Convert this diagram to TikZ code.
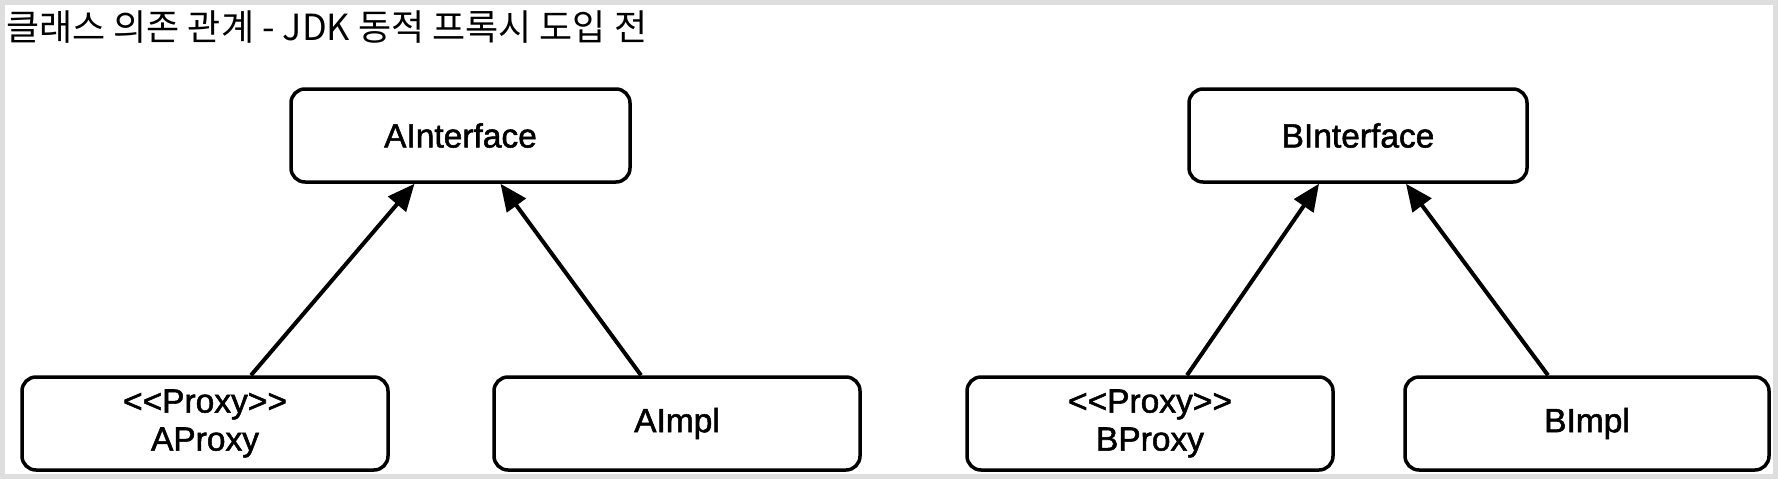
\documentclass[tikz,border=0pt]{standalone}
\usepackage{fontspec}
\setmainfont{Liberation Sans}
\newfontfamily\kofont{Noto Sans CJK KR}
\newfontfamily\boxfont{Liberation Sans}[FakeBold=1.6]
\usepackage{tikz}
\usetikzlibrary{arrows.meta}
\pgfdeclarelayer{background}
\pgfsetlayers{background,main}

\tikzset{
  classbox/.style={draw, line width=3.5pt, rounded corners=14pt, align=center,
    minimum width=366pt, minimum height=93pt, inner sep=0pt,
    font=\boxfont\fontsize{33.5}{38}\selectfont},
  implements/.style={-{Triangle[length=27pt,width=23pt]}, line width=4pt}
}

\begin{document}
\begin{tikzpicture}[x=1pt,y=-1pt]
\useasboundingbox (0,0) rectangle (1778,480);
\begin{pgfonlayer}{background}
\draw[color=black!13, line width=5pt] (2.5,2.5) rectangle (1775.5,476.5);
\end{pgfonlayer}
\node[anchor=west, inner sep=0pt, font=\kofont\fontsize{36}{40}\selectfont] (title) at (6,27) {클래스 의존 관계 - JDK 동적 프록시 도입 전};
% A side
\node[classbox, minimum width=339pt] (aiface) at (460.5,135.5) {AInterface};
\node[classbox] (aproxy) at (205,423.5) {{<}{<}Proxy{>}{>}\\AProxy};
\node[classbox] (aimpl) at (677,423.5) {AImpl};
% B side
\node[classbox, minimum width=338pt] (biface) at (1358,135.5) {BInterface};
\node[classbox] (bproxy) at (1150,423.5) {{<}{<}Proxy{>}{>}\\BProxy};
\node[classbox, minimum width=364pt] (bimpl) at (1587,423.5) {BImpl};
\draw[implements] ([xshift=46pt]aproxy.north) -- ([xshift=-46pt]aiface.south);
\draw[implements] ([xshift=-36pt]aimpl.north) -- ([xshift=40pt]aiface.south);
\draw[implements] ([xshift=37pt]bproxy.north) -- ([xshift=-39pt]biface.south);
\draw[implements] ([xshift=-39pt]bimpl.north) -- ([xshift=48pt]biface.south);
\end{tikzpicture}
\end{document}
